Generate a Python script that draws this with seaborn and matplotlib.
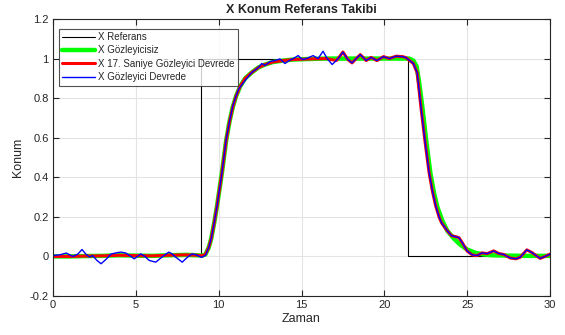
import numpy as np
import pandas as pd
import matplotlib
matplotlib.use("Agg")
import matplotlib.pyplot as plt
import seaborn as sns

# Reference signal (step up / step down)
ref_t = [0, 8.93, 8.93, 21.4, 21.4, 30]
ref_x = [0, 0, 1, 1, 0, 0]

# Response without observer (smooth)
smooth_t = [0, 1, 2, 3, 4, 5, 6, 7, 8, 8.7, 9.0, 9.2, 9.4, 9.55, 9.73, 9.9, 10.05,
            10.2, 10.45, 10.65, 10.85, 11.05, 11.3, 11.6, 12.0, 12.4, 12.8, 13.3,
            13.9, 14.5, 15.5, 16.5, 17.5, 19, 20, 21, 21.5, 21.75, 21.95, 22.1,
            22.3, 22.52, 22.78, 23.0, 23.2, 23.5, 23.8, 24.2, 24.6, 25.0, 25.5,
            26.0, 26.5, 27.5, 28.5, 30]
smooth_x = [0, 0.0, 0.002, 0.003, 0.006, 0.004, 0.003, 0.006, 0.008, 0.006, 0.004,
            0.01, 0.045, 0.09, 0.17, 0.255, 0.34, 0.425, 0.585, 0.68, 0.755, 0.81,
            0.86, 0.9, 0.93, 0.955, 0.97, 0.983, 0.99, 0.995, 0.998, 1.0, 1.0, 1.0,
            1.0, 1.0, 1.0, 0.99, 0.96, 0.88, 0.75, 0.59, 0.42, 0.32, 0.25, 0.18,
            0.13, 0.09, 0.058, 0.035, 0.018, 0.01, 0.006, 0.004, 0.003, 0.003]

# Response with observer active (noisy)
obs_t = [0.0, 0.4, 0.8, 1.2, 1.5, 1.75, 2.0, 2.2, 2.4, 2.65, 2.9, 3.2, 3.5, 3.8,
         4.1, 4.4, 4.65, 4.9, 5.1, 5.3, 5.55, 5.8, 6.2, 6.45, 6.7, 7.0, 7.2, 7.4,
         7.8, 8.1, 8.4, 8.65, 8.95, 9.2, 9.4, 9.55, 9.73, 9.9, 10.05, 10.2, 10.45,
         10.65, 10.85, 11.05, 11.2, 11.6, 12.0, 12.4, 12.6, 12.8, 13.1, 13.4,
         13.7, 14.0, 14.25, 14.5, 14.8, 15.05, 15.3, 15.7, 16.0, 16.3, 16.55,
         16.85, 17.1, 17.3, 17.5, 17.8, 18.05, 18.3, 18.55, 18.9, 19.2, 19.55,
         19.95, 20.3, 20.7, 21.1, 21.3, 21.45, 21.6, 21.75, 21.98, 22.2, 22.44,
         22.7, 22.9, 23.1, 23.3, 23.45, 23.75, 24.05, 24.3, 24.5, 24.7, 25.0,
         25.3, 25.6, 25.9, 26.2, 26.6, 26.9, 27.2, 27.6, 27.95, 28.2, 28.6, 28.9,
         29.4, 29.7, 30.0]
obs_x = [0.005, 0.008, 0.017, 0.0, 0.012, 0.035, 0.01, -0.003, 0.004, -0.02, -0.037,
         -0.015, 0.012, 0.018, 0.022, 0.017, 0.003, -0.012, 0.0, 0.013, 0.0, -0.02,
         -0.029, -0.012, 0.005, 0.022, 0.012, -0.003, -0.029, -0.005, 0.013, 0.008,
         -0.005, 0.005, 0.045, 0.09, 0.17, 0.255, 0.34, 0.425, 0.59, 0.68, 0.76,
         0.81, 0.845, 0.89, 0.93, 0.955, 0.975, 0.965, 0.985, 0.99, 0.998, 0.975,
         0.99, 1.0, 1.015, 0.995, 1.0, 1.015, 1.0, 1.037, 1.0, 0.97, 0.99, 1.01,
         1.033, 0.995, 0.978, 1.0, 1.02, 0.99, 1.006, 0.99, 1.01, 1.0, 1.012, 1.01,
         1.005, 0.995, 0.985, 0.975, 0.928, 0.76, 0.59, 0.423, 0.33, 0.255, 0.2,
         0.17, 0.135, 0.105, 0.1, 0.095, 0.07, 0.027, 0.008, 0.004, 0.018, 0.014,
         0.028, 0.015, 0.01, -0.008, -0.012, -0.004, 0.033, 0.02, -0.01, 0.0, 0.012]

switch_time = 17  # observer switched on at 17 s

smooth_t = np.array(smooth_t)
smooth_x = np.array(smooth_x)
obs_t = np.array(obs_t)
obs_x = np.array(obs_x)

# Observer switched on at 17 s: smooth part before, observer part after
red_t = np.concatenate([smooth_t[smooth_t < switch_time], obs_t[obs_t >= switch_time]])
red_x = np.concatenate([smooth_x[smooth_t < switch_time], obs_x[obs_t >= switch_time]])

sns.set_theme(style="white")
plt.rcParams['font.family'] = ['Liberation Sans', 'DejaVu Sans']

fig = plt.figure(figsize=(5.65, 3.35), dpi=100)
ax = fig.add_axes([0.0938, 0.1164, 0.8797, 0.8269])

sns.lineplot(x=ref_t, y=ref_x, ax=ax, color="black", lw=0.8, estimator=None,
             sort=False, label="X Referans")
sns.lineplot(x=smooth_t, y=smooth_x, ax=ax, color=(0, 1, 0), lw=3.2, estimator=None,
             sort=False, label="X Gözleyicisiz")
sns.lineplot(x=red_t, y=red_x, ax=ax, color=(1, 0, 0), lw=2.2, estimator=None,
             sort=False, label="X 17. Saniye Gözleyici Devrede")
sns.lineplot(x=obs_t, y=obs_x, ax=ax, color=(0, 0, 1), lw=1.0, estimator=None,
             sort=False, label="X Gözleyici Devrede")

ax.set_xlim(0, 30)
ax.set_ylim(-0.2, 1.2)
ax.set_xticks(np.arange(0, 31, 5))
ax.set_yticks(np.arange(-0.2, 1.21, 0.2))
ax.set_yticklabels(["-0.2", "0", "0.2", "0.4", "0.6", "0.8", "1", "1.2"])
ax.grid(True, color="#e3e3e3", lw=0.8)
ax.set_axisbelow(True)
for s in ax.spines.values():
    s.set_color("#262626")
    s.set_linewidth(0.8)
ax.tick_params(direction="in", length=4, width=0.8, colors="#262626",
               labelsize=8, top=True, right=True, bottom=True, left=True, pad=3)
ax.set_xlabel("Zaman", fontsize=9, color="#262626", labelpad=2)
ax.set_ylabel("Konum", fontsize=9, color="#262626", labelpad=4)
ax.set_title("X Konum Referans Takibi", fontsize=9, fontweight="bold", pad=4)

leg = ax.legend(loc="upper left", bbox_to_anchor=(0.012, 0.965), borderaxespad=0,
                fontsize=7, frameon=True, fancybox=False, handlelength=3.4,
                handletextpad=0.3, labelspacing=0.35, borderpad=0.35)
leg.get_frame().set_edgecolor("#262626")
leg.get_frame().set_linewidth(0.8)

fig.savefig("out.png", dpi=100)
